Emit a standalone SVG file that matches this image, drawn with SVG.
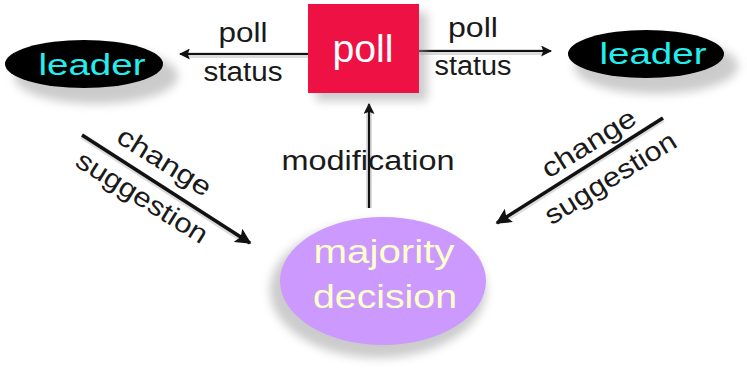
<svg xmlns="http://www.w3.org/2000/svg" width="747" height="375" viewBox="0 0 747 375">
<style>
  text { font-family: "Liberation Sans", Arial, sans-serif; }
  .lbl { fill: #1a1a1a; font-size: 27px; }
  .leader { fill: #22eeee; font-size: 30px; }
  .maj { fill: #ffffcc; font-size: 34px; }
  .conn { stroke: #111; stroke-width: 2.2; fill: none; }
  .diag { stroke: #111; stroke-width: 3.5; fill: none; }
  .connsh { stroke: #999; stroke-width: 6; fill: none; opacity: 0.35; }
  .shadow { fill: #999; opacity: 0.5; filter: url(#blur); }
</style>
<defs>
  <filter id="blur" x="-30%" y="-30%" width="160%" height="160%">
    <feGaussianBlur stdDeviation="5"/>
  </filter>
  <marker id="ah" viewBox="0 0 10 10" refX="9" refY="5" markerWidth="5" markerHeight="5" orient="auto" markerUnits="strokeWidth">
    <path d="M0,0 L10,5 L0,10 L2,5 z" fill="#111"/>
  </marker>
  <marker id="ahb" viewBox="0 0 10 10" refX="9" refY="5" markerWidth="4.5" markerHeight="4.5" orient="auto" markerUnits="strokeWidth">
    <path d="M0,0 L10,5 L0,10 L2,5 z" fill="#111"/>
  </marker>
</defs>
<rect width="747" height="375" fill="#fff"/>

<g id="connectors">
  <line class="connsh" x1="308" y1="55" x2="186" y2="55"/>
  <line class="conn" x1="308" y1="54" x2="180" y2="54" marker-end="url(#ah)"/>
  <line class="connsh" x1="419" y1="52" x2="544" y2="52"/>
  <line class="conn" x1="419" y1="51" x2="551" y2="51" marker-end="url(#ah)"/>
  <line class="connsh" x1="369" y1="208" x2="369" y2="112"/>
  <line class="conn" x1="369" y1="208" x2="369" y2="104" marker-end="url(#ah)"/>
  <line class="connsh" x1="82" y1="136" x2="240" y2="238"/>
  <line class="diag" x1="82" y1="135" x2="250" y2="243" marker-end="url(#ahb)"/>
  <line class="connsh" x1="663" y1="119" x2="507" y2="218"/>
  <line class="diag" x1="663" y1="118" x2="497" y2="223" marker-end="url(#ahb)"/>
  <text class="lbl" x="243" y="42" text-anchor="middle" textLength="49" lengthAdjust="spacingAndGlyphs">poll</text>
  <text class="lbl" x="243" y="81" text-anchor="middle" textLength="79" lengthAdjust="spacingAndGlyphs">status</text>
  <text class="lbl" x="473" y="37" text-anchor="middle" textLength="50" lengthAdjust="spacingAndGlyphs">poll</text>
  <text class="lbl" x="473" y="75" text-anchor="middle" textLength="77" lengthAdjust="spacingAndGlyphs">status</text>
  <text class="lbl" x="368" y="170" text-anchor="middle" font-size="30" textLength="173" lengthAdjust="spacingAndGlyphs">modification</text>
  <g transform="translate(82,135) rotate(32)">
    <text class="lbl" x="84" y="-12" text-anchor="middle" font-size="25" textLength="106" lengthAdjust="spacingAndGlyphs">change</text>
    <text class="lbl" x="84" y="30" text-anchor="middle" font-size="25" textLength="150" lengthAdjust="spacingAndGlyphs">suggestion</text>
  </g>
  <g transform="translate(497,223) rotate(-32)">
    <text class="lbl" x="120" y="-10" text-anchor="middle" font-size="25" textLength="106" lengthAdjust="spacingAndGlyphs">change</text>
    <text class="lbl" x="120" y="31" text-anchor="middle" font-size="25" textLength="150" lengthAdjust="spacingAndGlyphs">suggestion</text>
  </g>
</g>

<g id="leader-left">
  <ellipse class="shadow" cx="96" cy="76" rx="82" ry="28"/>
  <ellipse cx="84" cy="64" rx="79" ry="24" fill="#000"/>
  <text class="leader" x="92" y="75" text-anchor="middle" textLength="107" lengthAdjust="spacingAndGlyphs">leader</text>
</g>

<g id="poll">
  <rect class="shadow" x="316" y="12" width="111" height="89"/>
  <rect x="308" y="4" width="111" height="89" fill="#ee1144"/>
  <text x="363" y="62" text-anchor="middle" font-size="38" fill="#fff" textLength="61" lengthAdjust="spacingAndGlyphs">poll</text>
</g>

<g id="leader-right">
  <ellipse class="shadow" cx="656" cy="66" rx="82" ry="28"/>
  <ellipse cx="646" cy="54" rx="78" ry="24" fill="#000"/>
  <text class="leader" x="653" y="64" text-anchor="middle" textLength="107" lengthAdjust="spacingAndGlyphs">leader</text>
</g>

<g id="majority">
  <ellipse class="shadow" cx="378" cy="290" rx="108" ry="68"/>
  <ellipse cx="383" cy="281" rx="103" ry="64" fill="#cc99ff"/>
  <text class="maj" x="384" y="263" text-anchor="middle" textLength="141" lengthAdjust="spacingAndGlyphs">majority</text>
  <text class="maj" x="385" y="308" text-anchor="middle" textLength="144" lengthAdjust="spacingAndGlyphs">decision</text>
</g>
</svg>
